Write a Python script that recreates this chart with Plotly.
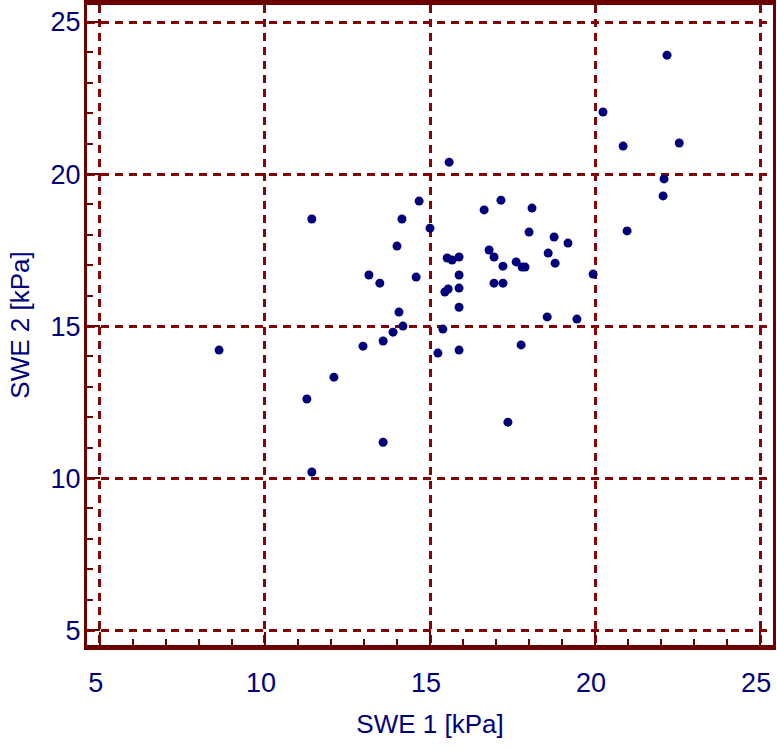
import plotly.graph_objects as go

swe1 = [8.61, 11.27, 11.42, 11.42, 12.09, 12.97, 13.15, 13.48, 13.58, 13.58,
        13.88, 14.00, 14.06, 14.18, 14.15, 14.58, 14.67, 15.00, 15.24, 15.39,
        15.45, 15.55, 15.52, 15.67, 15.88, 15.88, 15.88, 15.88, 15.88, 15.58,
        16.64, 17.15, 16.79, 16.94, 17.21, 16.94, 17.21, 17.61, 17.79, 17.88,
        17.36, 17.76, 18.09, 18.00, 18.58, 18.79, 18.76, 19.18, 18.55, 19.45,
        19.94, 20.24, 20.85, 20.97, 22.06, 22.09, 22.18, 22.55]
swe2 = [14.21, 12.60, 10.20, 18.52, 13.32, 14.34, 16.68, 16.41, 11.18, 14.51,
        14.80, 17.63, 15.46, 15.00, 18.52, 16.61, 19.11, 18.22, 14.11, 14.90,
        16.12, 16.22, 17.24, 17.17, 17.27, 16.68, 16.25, 15.62, 14.21, 20.39,
        18.82, 19.14, 17.50, 17.27, 16.97, 16.41, 16.41, 17.11, 16.94, 16.94,
        11.84, 14.38, 18.88, 18.09, 17.40, 17.07, 17.93, 17.73, 15.30, 15.23,
        16.71, 22.04, 20.92, 18.13, 19.28, 19.84, 23.91, 21.02]

tick_vals = [5, 10, 15, 20, 25]
tick_text = ["5", "10", "15", "20", "25"]
x_title = "SWE 1 [kPa]"
y_title = "SWE 2 [kPa]"

frame = "#6b0000"
grid = "#820606"
navy = "#00007a"
font_family = "Liberation Sans, Arial, sans-serif"

fig = go.Figure()
fig.add_trace(go.Scatter(
    x=swe1, y=swe2, mode="markers",
    marker=dict(symbol="circle", size=9, color=navy, line=dict(width=0)),
    showlegend=False,
))

common = dict(
    tickmode="array", tickvals=tick_vals, ticktext=tick_text,
    ticks="inside", ticklen=13, tickwidth=2, tickcolor=frame,
    showgrid=True, gridcolor=grid, gridwidth=2.5, griddash="8px,6px",
    zeroline=False, showline=True, mirror=True, linecolor=frame,
    tickfont=dict(family=font_family, size=27, color=navy),
    minor=dict(ticks="inside", ticklen=6, tickwidth=2, tickcolor=frame,
               dtick=1, tick0=5, showgrid=False),
)

fig.update_layout(
    width=777, height=748,
    margin=dict(l=87, r=4, t=5, b=103, autoexpand=False),
    paper_bgcolor="white", plot_bgcolor="white",
    xaxis=dict(range=[4.61, 25.39], linewidth=5,
               title=dict(text=x_title, standoff=19,
                          font=dict(family=font_family, size=26, color=navy)),
               ticklabelstandoff=10, ticklabelshift=-4, **common),
    yaxis=dict(range=[4.51, 25.56], linewidth=3,
               title=dict(text=y_title, standoff=14,
                          font=dict(family=font_family, size=26, color=navy)),
               ticklabelstandoff=-2, **common),
)

fig.write_html("out.html", config={"displayModeBar": False},
               post_script="document.body.style.margin='0';")
